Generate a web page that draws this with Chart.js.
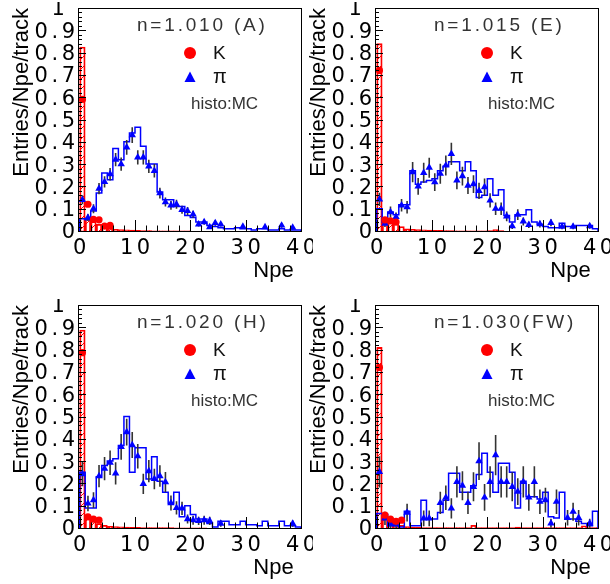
<!DOCTYPE html>
<html>
<head>
<meta charset="utf-8">
<script src="https://cdn.jsdelivr.net/npm/chart.js@4.4.0/dist/chart.umd.min.js"></script>
<style>
  html, body { margin: 0; padding: 0; background: #fff; }
  #wrap { position: relative; width: 610px; height: 584px; overflow: hidden; }
  canvas { position: absolute; }
</style>
</head>
<body>
<div id="wrap">
  <canvas id="pA" width="313" height="287" style="left:0;top:0"></canvas>
  <canvas id="pE" width="313" height="287" style="left:297px;top:0"></canvas>
  <canvas id="pH" width="313" height="287" style="left:0;top:297px"></canvas>
  <canvas id="pFW" width="313" height="287" style="left:297px;top:297px"></canvas>
</div>
<script>
// axis ticks
const xTicks = [0, 10, 20, 30, 40];
const yTicks = [0, 0.1, 0.2, 0.3, 0.4, 0.5, 0.6, 0.7, 0.8, 0.9, 1];

// n=1.010 (A)
const piMcA = [0.055,0.05,0.09,0.17,0.26,0.23,0.37,0.32,0.40,0.44,0.465,0.38,0.30,0.30,0.175,0.14,0.14,0.11,0.11,0.07,
  0.06,0.04,0.04,0.025,0.02,0.015,0.01,0.01,0.015,0.01,0.01,0.005,0.01,0.01,0.005,0.005,0.01,0.005,0.005,0.005];
const kMcA = [0.825,0.06,0.045,0.03,0.02,0.012,0.008,0.006,0.005,0.004,0.003,0.002,0.002,0.001,0.001,0.001,0.001,0.001,0.001,0.001,
  0,0,0,0,0,0,0,0,0,0,0,0,0,0,0,0,0,0,0,0];
const piDataA = [0.14,0.06,0.10,0.19,0.22,0.255,0.32,0.30,0.375,0.43,0.33,0.33,0.29,0.27,0.17,0.13,0.115,0.12,0.095,0.09,
  0.075,0.03,0.04,0.018,0.036,0.03,null,null,null,0.02,null,null,null,0.018,null,null,0.025,null,0.015,null];
const piErrA = [0.02,0.015,0.02,0.025,0.025,0.028,0.03,0.03,0.033,0.035,0.032,0.032,0.03,0.03,0.024,0.02,0.02,0.02,0.018,0.018,
  0.016,0.01,0.012,0.008,0.012,0.01,0,0,0,0.008,0,0,0,0.008,0,0,0.01,0,0.008,0];
const kDataA = [0.59,0.12,0.052,0.05,0.022,0.025];

// n=1.015 (E)
const piMcE = [0.10,0.04,0.085,0.073,0.118,0.118,0.27,0.21,0.22,0.227,0.234,0.27,0.29,0.31,0.31,0.27,0.31,0.27,0.15,0.16,
  0.234,0.16,0.185,0.07,0.04,0.073,0.073,0.095,0.04,0.03,0.02,0.015,0.015,0.035,0.02,0.02,0.025,0.025,0.025,0.01];
const kMcE = [0.84,0.06,0.045,0.035,0.02,0.01,0.008,0.006,0.005,0.004,0.003,0.003,0.002,0.002,0.001,0.001,0.001,0.001,0.001,0.001,
  0.002,0.006,0.002,0,0,0,0,0,0,0,0,0,0,0,0,0,0,0,0,0];
const piDataE = [0.142,0.033,0.085,0.063,0.115,0.107,0.264,0.2,0.261,0.284,0.219,0.257,0.294,0.346,0.227,0.246,0.204,0.21,0.18,0.197,
  0.137,0.1,0.1,0.066,0.022,0.073,0.043,0.028,null,0.031,null,0.037,null,0.02,null,0.02,null,null,0.022,null];
const piErrE = [0.03,0.015,0.025,0.02,0.028,0.028,0.045,0.038,0.045,0.045,0.04,0.045,0.045,0.05,0.04,0.042,0.038,0.04,0.036,0.038,
  0.032,0.028,0.028,0.022,0.013,0.024,0.018,0.014,0,0.015,0,0.016,0,0.012,0,0.012,0,0,0.012,0];
const kDataE = [0.72,0.05,0.045,0.04];

// n=1.020 (H)
const piMcH = [0.25,0.09,0.09,0.23,0.28,0.30,0.31,0.37,0.50,0.25,0.36,0.36,0.22,0.32,0.21,0.16,0.11,0.16,0.05,0.10,
  0.06,0.04,0.04,0.02,0.005,0.03,0.03,0.015,0.015,0.03,0.015,0.015,0.01,0.03,0.01,0.01,0.03,0.01,0.01,0.005];
const kMcH = [0.888,0.045,0.035,0.02,0.012,0.008,0.006,0.005,0.004,0.003,0.003,0.002,0.002,0.002,0.002,0.002,0.002,0.001,0.001,0.001,
  0.001,0.001,0.001,0,0,0,0,0,0,0,0,0,0,0,0,0,0,0,0,0];
const piDataH = [0.242,0.11,0.125,0.233,0.266,0.293,0.245,0.364,0.43,0.372,0.322,0.198,0.255,0.22,0.233,0.206,0.112,0.09,0.088,0.04,
  0.035,0.032,0.035,0.032,null,0.02,null,null,null,null,null,null,null,null,null,null,null,null,0.02,null];
const piErrH = [0.055,0.035,0.035,0.05,0.052,0.055,0.05,0.058,0.06,0.058,0.055,0.045,0.05,0.046,0.048,0.045,0.034,0.03,0.03,0.02,
  0.02,0.018,0.02,0.018,0,0.014,0,0,0,0,0,0,0,0,0,0,0,0,0.014,0];
const kDataH = [0.786,0.05,0.04,0.035];

// n=1.030(FW)
const piMcFW = [0.065,0.06,0.01,0.01,0.005,0.075,0.01,0.01,0.125,0.04,0.04,0.07,0.125,0.245,0.245,0.16,0.16,0.19,0.24,0.335,
  0.25,0.16,0.29,0.29,0.25,0.09,0.21,0.14,0.14,0.13,0.16,0.05,0.045,0.16,0.04,0.04,0.03,0.02,0.01,0.075];
const kMcFW = [0.81,0.065,0.03,0.02,0.012,0.006,0.004,0.003,0.002,0.002,0.002,0.002,0.002,0.002,0.002,0.002,0.002,0.012,0.002,0.002,
  0.002,0.002,0.002,0.002,0.002,0.004,0.002,0.002,0.002,0.002,0.002,0.002,0.002,0.002,0.002,0.002,0.002,0.01,0.002,0.002];
const piDataFW = [0.252,0.043,0.018,0.018,null,0.069,null,null,0.043,0.043,null,0.113,0.136,0.088,0.207,0.19,0.113,0.185,0.30,0.137,
  0.207,0.327,0.207,0.207,0.185,0.163,0.207,0.137,0.207,0.118,0.125,0.021,0.118,null,0.046,0.073,0.046,null,0.021,null];
const piErrFW = [0.07,0.03,0.02,0.02,0,0.04,0,0,0.035,0.035,0,0.05,0.055,0.045,0.07,0.065,0.05,0.065,0.085,0.06,
  0.07,0.09,0.07,0.07,0.065,0.06,0.07,0.06,0.07,0.055,0.055,0.02,0.055,0,0.035,0.04,0.035,0,0.02,0];
const kDataFW = [0.72,0.058,0.04,0.03,0.035];

const RED = '#ff0000';
const BLUE = '#0000ff';
const FONT = "'Liberation Sans', Arial, Helvetica, sans-serif";
const NUM_FONT = "'DejaVu Sans', 'Liberation Sans', sans-serif";

// ROOT prints the axis numbers with wide spacing, centred on the tick
const baseDrawLabels = Chart.Scale.prototype.drawLabels;
Chart.Scale.prototype.drawLabels = function (area) {
  const ctx = this.ctx;
  ctx.save();
  ctx.letterSpacing = '3.5px';
  if (this.isHorizontal()) ctx.translate(1.75, 0);
  else ctx.translate(0, 2);
  baseDrawLabels.call(this, area);
  ctx.restore();
};

function makeHatch() {
  const c = document.createElement('canvas');
  c.width = 10; c.height = 10;
  const g = c.getContext('2d');
  g.strokeStyle = RED;
  g.lineWidth = 1;
  g.beginPath();
  g.moveTo(0, 10); g.lineTo(10, 0);
  g.moveTo(-1, 1); g.lineTo(1, -1);
  g.moveTo(9, 11); g.lineTo(11, 9);
  g.stroke();
  return g.createPattern(c, 'repeat');
}
const hatch = makeHatch();

// histogram outline: one point per bin left edge, closed at both ends
function stepPoints(vals) {
  const pts = [{ x: 0, y: 0 }];
  vals.forEach((v, i) => pts.push({ x: i, y: v }));
  pts.push({ x: vals.length, y: vals[vals.length - 1] });
  pts.push({ x: vals.length, y: 0 });
  return pts;
}

function binPoints(vals) {
  return vals.map((v, i) => ({ x: i + 0.5, y: v }));
}

function markerPoints(vals, errs) {
  return vals
    .map((v, i) => ({ x: i + 0.5, y: v, err: errs ? errs[i] : 0 }))
    .filter((p) => p.y !== null);
}

const errorBars = {
  id: 'errorBars',
  beforeDatasetDraw(chart, args) {
    const ds = chart.data.datasets[args.index];
    if (!ds.errColor) return;
    const { ctx, chartArea: a, scales: { x, y } } = chart;
    ctx.save();
    ctx.beginPath();
    ctx.rect(a.left, a.top, a.width, a.height);
    ctx.clip();
    ctx.strokeStyle = ds.errColor;
    ctx.lineWidth = 1.6;
    ctx.beginPath();
    ds.data.forEach((p) => {
      if (!p.err) return;
      const px = x.getPixelForValue(p.x);
      ctx.moveTo(px, y.getPixelForValue(p.y - p.err));
      ctx.lineTo(px, y.getPixelForValue(p.y + p.err));
    });
    ctx.stroke();
    ctx.restore();
  }
};

// ROOT-like frame with ticks pointing inward
const frameTicks = {
  id: 'frameTicks',
  afterDatasetsDraw(chart) {
    const { ctx, chartArea: a, scales: { x, y } } = chart;
    ctx.save();
    ctx.strokeStyle = '#000';
    ctx.lineWidth = 1;
    ctx.beginPath();
    for (let i = 0; i <= 50; i++) {
      const py = Math.round(y.getPixelForValue(i / 50)) + 0.5;
      const len = i % 5 === 0 ? 8 : 4;
      ctx.moveTo(a.left, py);
      ctx.lineTo(a.left + len, py);
    }
    for (let i = 0; i <= 20; i++) {
      const px = Math.round(x.getPixelForValue(i * 2)) + 0.5;
      const len = i % 5 === 0 ? 11 : 5.5;
      ctx.moveTo(px, a.bottom);
      ctx.lineTo(px, a.bottom - len);
    }
    ctx.stroke();
    ctx.strokeRect(Math.round(a.left) + 0.5, Math.round(a.top) + 0.5, Math.round(a.width), Math.round(a.height));
    ctx.restore();
  }
};

const panelNote = {
  id: 'panelNote',
  afterDraw(chart, args, opts) {
    const { ctx, chartArea: a } = chart;
    const L = a.left, T = a.top;
    ctx.save();
    ctx.textBaseline = 'middle';
    ctx.textAlign = 'left';
    ctx.fillStyle = '#333';
    ctx.font = '19px ' + FONT;
    ctx.letterSpacing = '2.8px';
    ctx.fillText(opts.title, L + 59, T + 18);
    ctx.letterSpacing = '0px';

    // legend markers
    ctx.fillStyle = RED;
    ctx.beginPath();
    ctx.arc(L + 112, T + 45, 6, 0, Math.PI * 2);
    ctx.fill();
    ctx.fillStyle = BLUE;
    ctx.beginPath();
    ctx.moveTo(L + 112, T + 63.5);
    ctx.lineTo(L + 117.5, T + 74);
    ctx.lineTo(L + 106.5, T + 74);
    ctx.closePath();
    ctx.fill();

    ctx.fillStyle = '#111';
    ctx.font = '19px ' + FONT;
    ctx.fillText(chart.data.datasets[0].label, L + 135, T + 46);
    ctx.font = '20px ' + FONT;
    ctx.fillText(chart.data.datasets[1].label, L + 135, T + 69);
    ctx.fillStyle = '#333';
    ctx.font = '17px ' + FONT;
    ctx.fillText('histo:MC', L + 113, T + 96);
    ctx.restore();
  }
};

function makePanel(id, title, piMc, kMc, piData, piErr, kData) {
  return new Chart(document.getElementById(id), {
    type: 'line',
    data: {
      datasets: [
        {
          label: 'K',
          data: markerPoints(kData),
          showLine: false,
          pointStyle: 'circle',
          pointRadius: 3.6,
          pointBackgroundColor: RED,
          pointBorderColor: RED,
          pointBorderWidth: 0
        },
        {
          label: 'π',
          data: markerPoints(piData, piErr),
          showLine: false,
          pointStyle: 'triangle',
          pointRadius: 4.3,
          pointBackgroundColor: BLUE,
          pointBorderColor: BLUE,
          pointBorderWidth: 0,
          errColor: '#333'
        },
        {
          label: 'π MC',
          data: stepPoints(piMc),
          stepped: true,
          borderColor: BLUE,
          borderWidth: 1.5,
          pointRadius: 0,
          fill: false
        },
        {
          type: 'bar',
          label: 'K MC',
          data: binPoints(kMc),
          backgroundColor: hatch,
          borderColor: RED,
          borderWidth: 1.2,
          barPercentage: 1,
          categoryPercentage: 1,
          grouped: false
        }
      ]
    },
    options: {
      responsive: false,
      animation: false,
      events: [],
      layout: { padding: { top: 8, right: 12, bottom: 0, left: 0 } },
      plugins: {
        legend: { display: false },
        tooltip: { enabled: false },
        panelNote: { title }
      },
      scales: {
        x: {
          type: 'linear',
          min: -0.3,
          max: 40,
          offset: false,
          afterBuildTicks: (s) => { s.ticks = xTicks.map((v) => ({ value: v })); },
          afterFit: (s) => { s.height = 56; s.paddingLeft = 0; s.paddingRight = 0; },
          grid: { display: false, drawTicks: false },
          border: { display: false },
          ticks: { padding: 5, color: '#000', maxRotation: 0, autoSkip: false, font: { family: NUM_FONT, size: 21 } },
          title: {
            display: true,
            text: 'Npe\u2004',
            align: 'end',
            color: '#000',
            font: { family: FONT, size: 22 },
            padding: { top: 0, bottom: 3 }
          }
        },
        y: {
          min: 0,
          max: 1,
          afterBuildTicks: (s) => { s.ticks = yTicks.map((v) => ({ value: v })); },
          afterFit: (s) => { s.width = 78; s.paddingTop = 0; s.paddingBottom = 0; },
          grid: { display: false, drawTicks: false },
          border: { display: false },
          ticks: {
            padding: -0.5,
            color: '#000',
            autoSkip: false,
            font: { family: NUM_FONT, size: 21 },
            callback: (v) => (v === 0 ? '0' : v === 1 ? '1 ' : v.toFixed(1))
          },
          title: {
            display: true,
            text: 'Entries/Npe/track',
            align: 'end',
            color: '#000',
            font: { family: FONT, size: 22 },
            padding: { top: 9, bottom: 0 }
          }
        }
      }
    },
    plugins: [errorBars, frameTicks, panelNote]
  });
}

makePanel('pA', 'n=1.010 (A)', piMcA, kMcA, piDataA, piErrA, kDataA);
makePanel('pE', 'n=1.015 (E)', piMcE, kMcE, piDataE, piErrE, kDataE);
makePanel('pH', 'n=1.020 (H)', piMcH, kMcH, piDataH, piErrH, kDataH);
makePanel('pFW', 'n=1.030(FW)', piMcFW, kMcFW, piDataFW, piErrFW, kDataFW);
</script>
</body>
</html>
